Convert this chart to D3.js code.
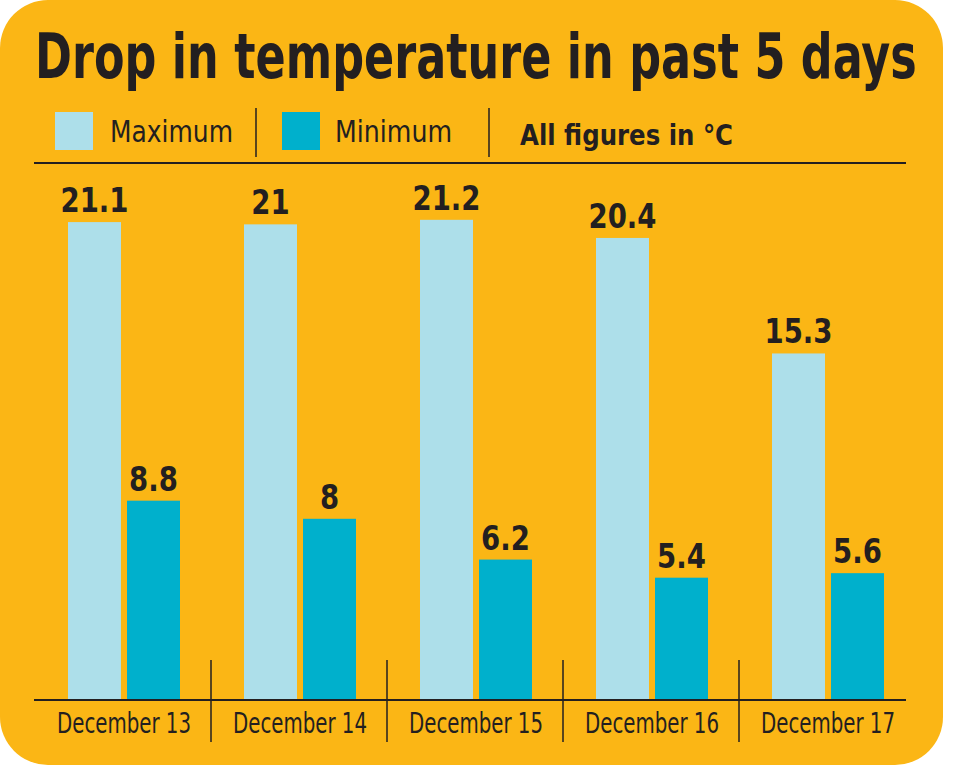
<!DOCTYPE html>
<html>
<head>
<meta charset="utf-8">
<script src="https://cdn.jsdelivr.net/npm/d3@7"></script>
<style>
  body { margin: 0; background: #fff; }
  text { font-family: "DejaVu Sans Condensed", "Liberation Sans Narrow", sans-serif; fill: #231f20; }
</style>
</head>
<body>
<svg id="chart"></svg>
<script>
// data
const days = ["December 13", "December 14", "December 15", "December 16", "December 17"];
const maxTemps = [21.1, 21, 21.2, 20.4, 15.3];
const minTemps = [8.8, 8, 6.2, 5.4, 5.6];
const seriesNames = ["Maximum", "Minimum"];
const seriesColors = ["#addfea", "#00b0cc"];

const W = 971, H = 767;
const ink = "#231f20";

// squeeze a text horizontally (the reference uses a condensed face)
function squeeze(sel, k) {
    sel.each(function() {
        const len = this.getComputedTextLength();
        d3.select(this)
            .attr("textLength", len * k)
            .attr("lengthAdjust", "spacingAndGlyphs");
    });
}

const svg = d3.select("#chart")
    .attr("width", W)
    .attr("height", H);

// orange card
svg.append("rect")
    .attr("x", 0).attr("y", 0)
    .attr("width", 943).attr("height", 765)
    .attr("rx", 48)
    .attr("fill", "#fbb615");

// title: size the font to the reference width, then stretch it vertically
const titleG = svg.append("g");
const title = titleG.append("text")
    .attr("x", 0).attr("y", 0)
    .style("font-size", "62px")
    .style("font-weight", "bold")
    .text("Drop in temperature in past 5 days");
const fs = 62 * 882 / title.node().getComputedTextLength();
title.style("font-size", fs + "px");
titleG.attr("transform", `translate(35,78) scale(1,${62 / fs})`);

// legend row
const legend = svg.append("g");
const legendItems = [
    { name: seriesNames[0], color: seriesColors[0], x: 55, tx: 110, w: 123 },
    { name: seriesNames[1], color: seriesColors[1], x: 282, tx: 335, w: 117 }
];
legendItems.forEach(d => {
    legend.append("rect")
        .attr("x", d.x).attr("y", 112)
        .attr("width", 38).attr("height", 38)
        .attr("fill", d.color);
    legend.append("text")
        .attr("x", d.tx).attr("y", 142)
        .attr("textLength", d.w)
        .attr("lengthAdjust", "spacingAndGlyphs")
        .style("font-size", "30px")
        .text(d.name);
});
[256, 489].forEach(x => {
    legend.append("line")
        .attr("x1", x).attr("x2", x)
        .attr("y1", 108).attr("y2", 157)
        .attr("stroke", ink).attr("stroke-width", 1.5);
});
legend.append("text")
    .attr("x", 520).attr("y", 145)
    .attr("textLength", 213)
    .attr("lengthAdjust", "spacingAndGlyphs")
    .style("font-size", "29px")
    .style("font-weight", "bold")
    .text("All figures in °C");

svg.append("line")
    .attr("x1", 34).attr("x2", 906)
    .attr("y1", 163).attr("y2", 163)
    .attr("stroke", ink).attr("stroke-width", 2);

// scales
const x0 = d3.scaleBand()
    .domain(days)
    .range([36, 916]);

const x1 = d3.scaleBand()
    .domain(seriesNames)
    .range([32, 144])
    .paddingInner(0.102);

const baseY = 700;
const y = d3.scaleLinear()
    .domain([0, 21.2])
    .range([baseY, baseY - 21.2 * 22.65]);

const rows = days.map((d, i) => ({
    day: d,
    values: [
        { key: seriesNames[0], value: maxTemps[i], color: seriesColors[0] },
        { key: seriesNames[1], value: minTemps[i], color: seriesColors[1] }
    ]
}));

const groups = svg.append("g")
    .selectAll("g")
    .data(rows)
    .join("g")
    .attr("transform", d => `translate(${x0(d.day)},0)`);

groups.selectAll("rect")
    .data(d => d.values)
    .join("rect")
    .attr("x", d => x1(d.key))
    .attr("y", d => y(d.value))
    .attr("width", x1.bandwidth())
    .attr("height", d => y(0) - y(d.value))
    .attr("fill", d => d.color);

const vals = groups.selectAll("text.val")
    .data(d => d.values)
    .join("text")
    .attr("class", "val")
    .attr("x", d => x1(d.key) + x1.bandwidth() / 2)
    .attr("y", d => y(d.value) - 10)
    .attr("text-anchor", "middle")
    .style("font-size", "34px")
    .style("font-weight", "bold")
    .text(d => d.value);
squeeze(vals, 0.9);

// x axis
const xAxis = svg.append("g")
    .attr("transform", `translate(0,${baseY})`)
    .call(d3.axisBottom(x0).tickSize(0).tickPadding(0));
xAxis.select(".domain").remove();
xAxis.selectAll("text")
    .attr("y", 33)
    .attr("dy", null)
    .attr("textLength", 134)
    .attr("lengthAdjust", "spacingAndGlyphs")
    .style("font-size", "28px")
    .attr("fill", ink);

svg.append("line")
    .attr("x1", 34).attr("x2", 906)
    .attr("y1", baseY).attr("y2", baseY)
    .attr("stroke", ink).attr("stroke-width", 2);

// separators between days
svg.append("g")
    .selectAll("line")
    .data(days.slice(1))
    .join("line")
    .attr("x1", d => x0(d) - 1).attr("x2", d => x0(d) - 1)
    .attr("y1", 660).attr("y2", 742)
    .attr("stroke", ink).attr("stroke-width", 1.5);
</script>
</body>
</html>
